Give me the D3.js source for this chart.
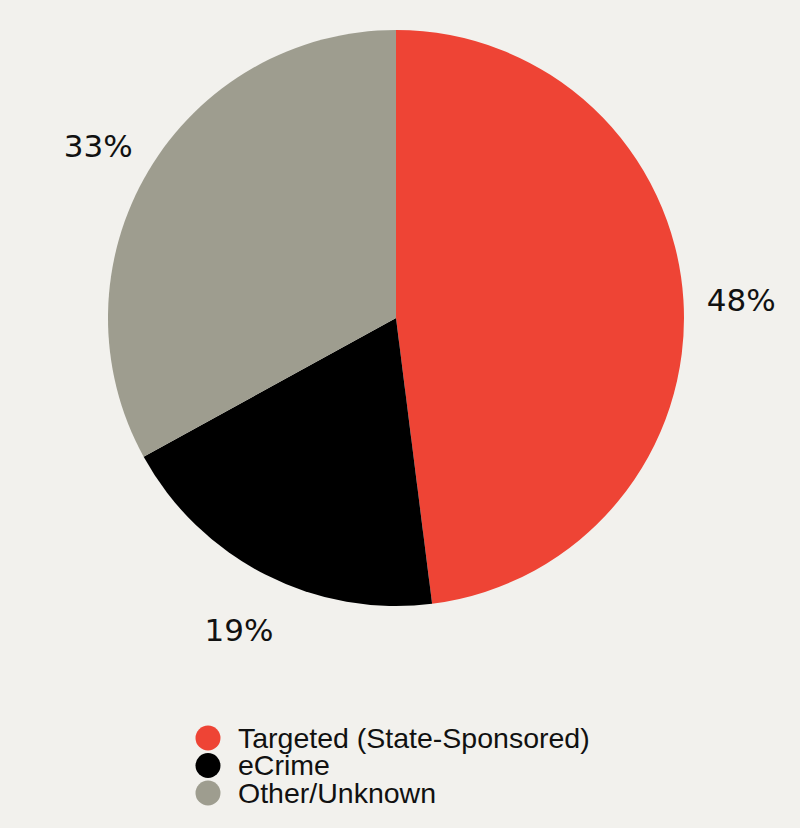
<!DOCTYPE html>
<html><head><meta charset="utf-8">
<script src="https://cdn.jsdelivr.net/npm/d3@7"></script>
<style>html,body{margin:0;padding:0;background:#f2f1ed;}svg{display:block;}</style>
</head><body>
<svg id="c" width="800" height="828"></svg>
<script>
const categories = ["Targeted (State-Sponsored)", "eCrime", "Other/Unknown"];
const values = [48, 19, 33];
const labels = ["48%", "19%", "33%"];
const colors = ["#ee4435", "#000000", "#9e9d8f"];

const svg = d3.select("#c");
const cx = 396, cy = 318, r = 288, labelR = 346;
const pie = d3.pie().sort(null).value(d => d)(values);
const arc = d3.arc().innerRadius(0).outerRadius(r);
const labelArc = d3.arc().innerRadius(labelR).outerRadius(labelR);
const g = svg.append("g").attr("transform", `translate(${cx},${cy})`);
g.selectAll("path").data(pie).join("path")
  .attr("d", arc).attr("fill", (d, i) => colors[i]);
g.selectAll("text").data(pie).join("text")
  .attr("transform", d => { const c = labelArc.centroid(d); return `translate(${c[0]},${c[1] + 4})`; })
  .attr("text-anchor", "middle").attr("dominant-baseline", "central")
  .attr("font-family", "DejaVu Sans, sans-serif").attr("font-size", 31)
  .attr("fill", "#111").text((d, i) => labels[i]);

const lg = svg.append("g");
const ly = d3.scalePoint().domain(categories).range([738, 793]);
lg.selectAll("circle").data(categories).join("circle")
  .attr("cx", 208).attr("cy", d => ly(d)).attr("r", 12.5)
  .attr("fill", (d, i) => colors[i]);
lg.selectAll("text").data(categories).join("text")
  .attr("x", 238).attr("y", d => ly(d) + 9.5)
  .attr("font-family", "Liberation Sans, Arial, sans-serif").attr("font-size", 28.5)
  .attr("fill", "#111").text(d => d);
</script>
</body></html>
